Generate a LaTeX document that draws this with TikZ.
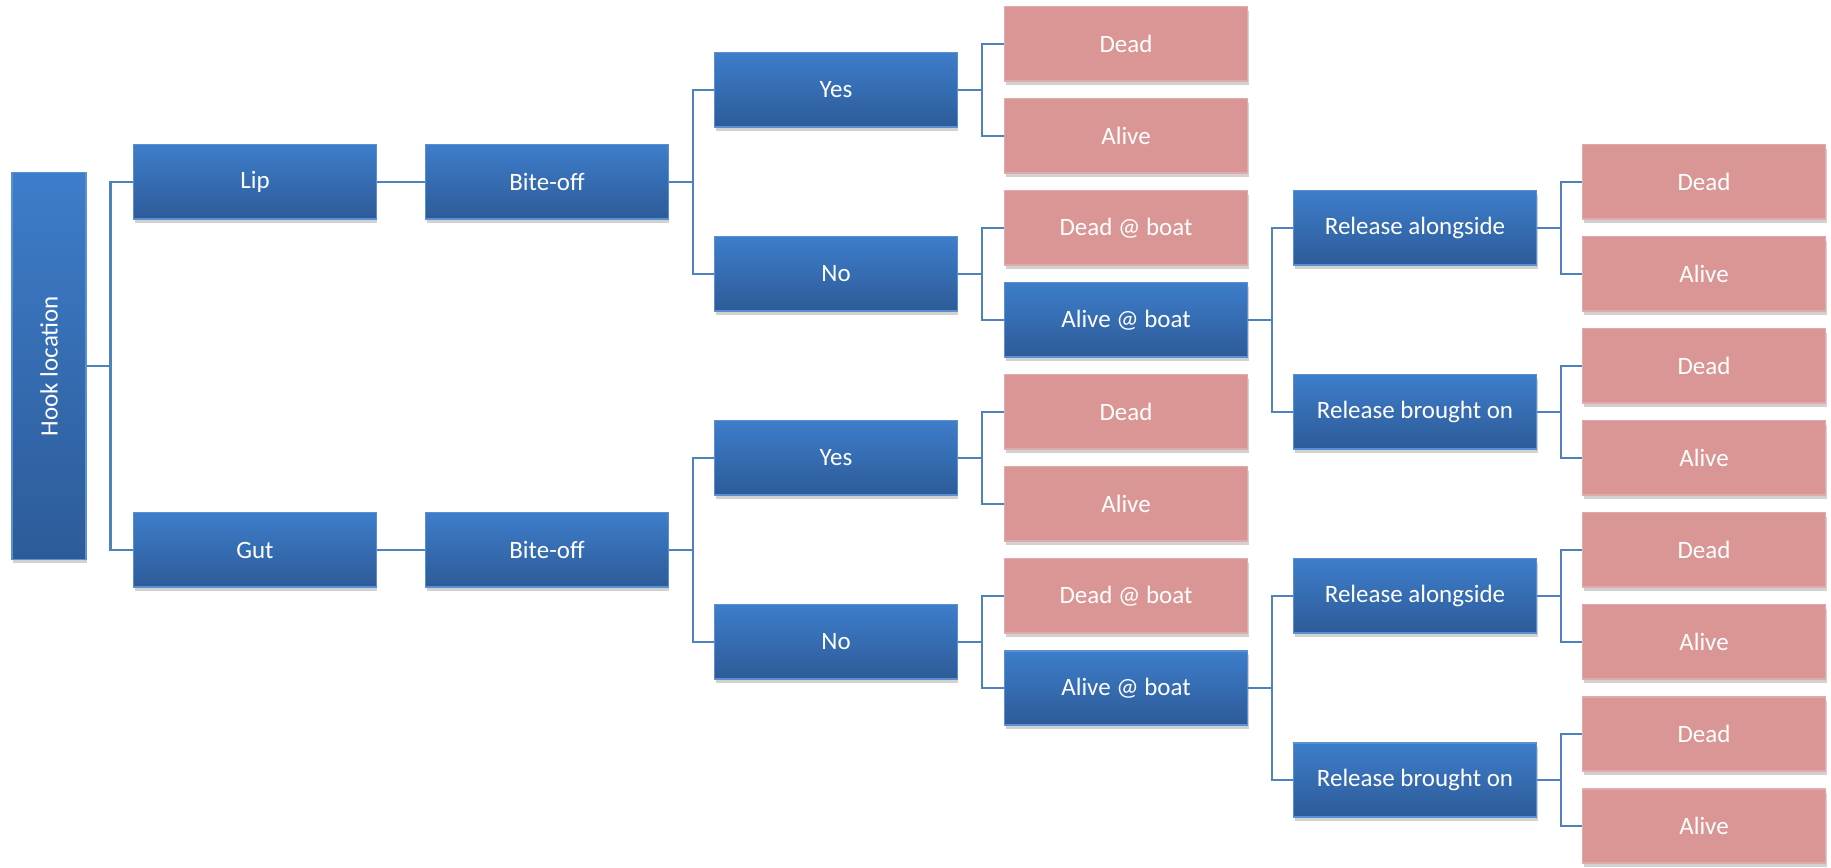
\documentclass[tikz,border=0pt]{standalone}
\usepackage{fontspec}
\setmainfont{Carlito}
\usetikzlibrary{shapes,arrows,positioning,shadows,calc}

\definecolor{boxtop}{HTML}{3D7DCA}
\definecolor{boxbottom}{HTML}{2D5B98}
\definecolor{leafred}{HTML}{D99694}
\definecolor{linkblue}{HTML}{4F81BD}

\begin{document}
\begin{tikzpicture}[x=0.01cm,y=-0.01cm,
    every node/.style={font=\fontsize{7.1}{8}\selectfont, text=white, inner sep=0pt},
    bluebox/.style={rectangle, draw=boxtop!85!white, line width=0.3pt,
        top color=boxtop, bottom color=boxbottom,
        minimum width=2.42cm, minimum height=0.74cm,
        drop shadow={shadow xshift=0.4pt, shadow yshift=-1.2pt, opacity=0.3, fill=black!60}},
    leafbox/.style={rectangle, draw=leafred!80!white, line width=0.3pt, fill=leafred,
        minimum width=2.42cm, minimum height=0.74cm,
        drop shadow={shadow xshift=0.4pt, shadow yshift=-1.2pt, opacity=0.3, fill=black!60}},
    link/.style={draw=linkblue, line width=0.6pt}]

    \useasboundingbox (0,0) rectangle (1831,868);

    % root
    \node[bluebox, minimum width=0.74cm, minimum height=3.86cm] (root) at (49,366)
        {\rotatebox{90}{Hook location}};

    % hook location
    \node[bluebox] (lip) at (255,182) {Lip};
    \node[bluebox] (gut) at (255,550) {Gut};

    % bite-off
    \node[bluebox] (bitelip) at (547,182) {Bite-off};
    \node[bluebox] (bitegut) at (547,550) {Bite-off};

    \node[bluebox] (yeslip) at (836,90) {Yes};
    \node[bluebox] (nolip) at (836,274) {No};
    \node[bluebox] (yesgut) at (836,458) {Yes};
    \node[bluebox] (nogut) at (836,642) {No};

    % fate after bite-off
    \node[leafbox] (deadyl) at (1126,44) {Dead};
    \node[leafbox] (aliveyl) at (1126,136) {Alive};
    \node[leafbox] (deadboatl) at (1126,228) {Dead @ boat};
    \node[bluebox] (aliveboatl) at (1126,320) {Alive @ boat};
    \node[leafbox] (deadyg) at (1126,412) {Dead};
    \node[leafbox] (aliveyg) at (1126,504) {Alive};
    \node[leafbox] (deadboatg) at (1126,596) {Dead @ boat};
    \node[bluebox] (aliveboatg) at (1126,688) {Alive @ boat};

    % release type
    \node[bluebox] (alongl) at (1415,228) {Release alongside};
    \node[bluebox] (broughtl) at (1415,412) {Release brought on};
    \node[bluebox] (alongg) at (1415,596) {Release alongside};
    \node[bluebox] (broughtg) at (1415,780) {Release brought on};

    % final fate
    \node[leafbox] (deadal) at (1704,182) {Dead};
    \node[leafbox] (aliveal) at (1704,274) {Alive};
    \node[leafbox] (deadbl) at (1704,366) {Dead};
    \node[leafbox] (alivebl) at (1704,458) {Alive};
    \node[leafbox] (deadag) at (1704,550) {Dead};
    \node[leafbox] (aliveag) at (1704,642) {Alive};
    \node[leafbox] (deadbg) at (1704,734) {Dead};
    \node[leafbox] (alivebg) at (1704,826) {Alive};

    % connectors
    \foreach \p/\c in {root/lip, root/gut, lip/bitelip, gut/bitegut,
        bitelip/yeslip, bitelip/nolip, bitegut/yesgut, bitegut/nogut,
        yeslip/deadyl, yeslip/aliveyl, nolip/deadboatl, nolip/aliveboatl,
        yesgut/deadyg, yesgut/aliveyg, nogut/deadboatg, nogut/aliveboatg,
        aliveboatl/alongl, aliveboatl/broughtl, aliveboatg/alongg, aliveboatg/broughtg,
        alongl/deadal, alongl/aliveal, broughtl/deadbl, broughtl/alivebl,
        alongg/deadag, alongg/aliveag, broughtg/deadbg, broughtg/alivebg}
        \draw[link] (\p.east) -- ++(24,0) |- (\c.west);
\end{tikzpicture}
\end{document}
